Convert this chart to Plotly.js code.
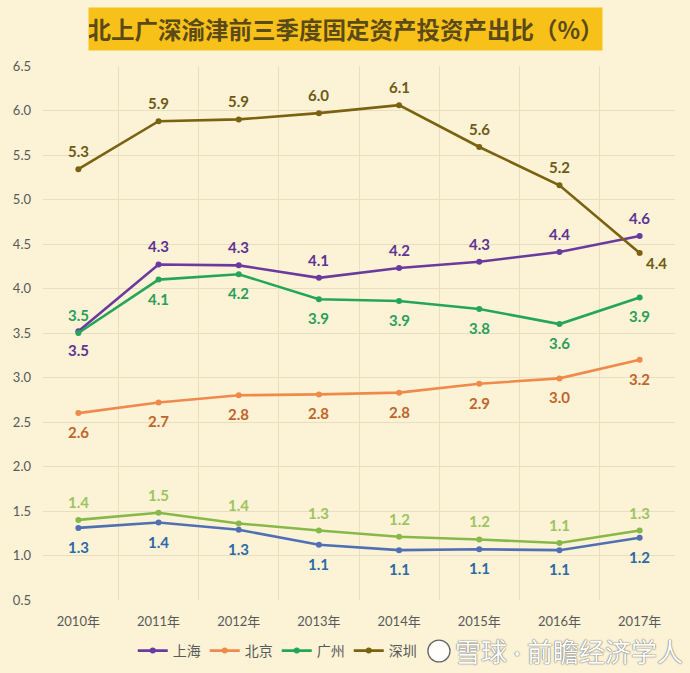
<!DOCTYPE html>
<html><head><meta charset="utf-8">
<script src="https://cdn.plot.ly/plotly-3.0.1.min.js"></script>
<style>html,body{margin:0;padding:0;background:#FCF3D6;}#chart{width:690px;height:673px;}</style>
</head><body><div id="chart"></div>
<script>
const years = ["2010年","2011年","2012年","2013年","2014年","2015年","2016年","2017年"];
const shanghai  = [3.52,4.27,4.26,4.12,4.23,4.30,4.41,4.59];
const beijing   = [2.60,2.72,2.80,2.81,2.83,2.93,2.99,3.20];
const guangzhou = [3.50,4.10,4.16,3.88,3.86,3.77,3.60,3.90];
const shenzhen  = [5.34,5.88,5.90,5.97,6.06,5.59,5.16,4.40];
const chongqing = [1.40,1.48,1.36,1.28,1.21,1.18,1.14,1.28];
const tianjin   = [1.31,1.37,1.29,1.12,1.06,1.07,1.06,1.20];

const series = [
  {name:"上海", y:shanghai,  color:"#6B3A9E", label:"#5E3393", pos:["b","t","t","t","t","t","t","t"], legend:true},
  {name:"北京", y:beijing,   color:"#F08A4B", label:"#C0652A", pos:["b","b","b","b","b","b","b","b"], legend:true},
  {name:"广州", y:guangzhou, color:"#25A55B", label:"#2A9E5A", pos:["t","b","b","b","b","b","b","b"], legend:true},
  {name:"深圳", y:shenzhen,  color:"#7A6210", label:"#6E5A14", pos:["t","t","t","t","t","t","t","br"], legend:true},
  {name:"重庆", y:chongqing, color:"#86B84A", label:"#9DC460", pos:["t","t","t","t","t","t","t","t"], legend:false},
  {name:"天津", y:tianjin,   color:"#4F70B3", label:"#2C6AA6", pos:["b","b","b","b","b","b","b","b"], legend:false}
];

const traces = series.map(s => ({
  type:"scatter", mode:"lines+markers", name:s.name, x:years, y:s.y,
  line:{color:s.color, width:2.6}, marker:{color:s.color, size:6},
  showlegend:s.legend, hoverinfo:"skip"
}));

const annotations = [];
series.forEach(s => {
  s.y.forEach((v,i) => {
    const p = s.pos[i];
    annotations.push({
      x:years[i], y:v, xref:"x", yref:"y", text:v.toFixed(1), showarrow:false,
      xshift: p==="br" ? 17 : 0,
      yshift: p==="t" ? 18 : (p==="br" ? -10 : -19),
      font:{family:"Lato, 'Noto Sans', sans-serif", size:15, color:s.label, weight:"bold"}
    });
  });
});

annotations.push({
  xref:"paper", yref:"paper", x:0.479, y:1.069, xanchor:"center", yanchor:"middle",
  text:"<b>北上广深渝津前三季度固定资产投资产出比（%）</b>", showarrow:false,
  bgcolor:"#F8C119", width:513, height:42, borderpad:0,
  font:{family:"'Noto Sans CJK SC', sans-serif", size:23.5, color:"#5A4A17"}
});
annotations.push({
  xref:"paper", yref:"paper", x:0.649, y:-0.0955, xanchor:"left", yanchor:"middle",
  text:"雪球<span style=\"font-family:Lato\"> · </span>前瞻经济学人", showarrow:false,
  font:{family:"'Noto Sans CJK SC', sans-serif", size:26, color:"#FFFFFF",
        shadow:"0 0 1.5px #555, 0 0 1px #777"}
});

const layout = {
  width:690, height:673,
  paper_bgcolor:"#FCF3D6", plot_bgcolor:"#FCF3D6",
  margin:{l:43, r:15, t:66, b:73, autoexpand:false},
  font:{family:"Lato, 'Noto Sans CJK SC', sans-serif", color:"#595959"},
  xaxis:{type:"category", tickson:"boundaries", showgrid:true, gridcolor:"#E9DEC0", gridwidth:1,
         ticks:"", showline:false, zeroline:false, tickfont:{size:13, color:"#595959"}, ticklabelstandoff:12},
  yaxis:{range:[0.5,6.5], dtick:0.5, tick0:0.5, tickformat:".1f", showgrid:true, gridcolor:"#E9DEC0",
         zeroline:false, showline:false, ticks:"", tickfont:{size:13, color:"#595959"}, ticklabelstandoff:11},
  showlegend:true,
  legend:{orientation:"h", x:0.142, xanchor:"left", y:-0.0955, yanchor:"middle",
          entrywidth:27, entrywidthmode:"pixels",
          font:{size:14, color:"#595959", family:"'Noto Sans CJK SC', sans-serif"}, itemwidth:30, bgcolor:"rgba(0,0,0,0)"},
  annotations:annotations,
  shapes:[{type:"circle", xref:"paper", yref:"paper", x0:0.609, x1:0.644, y0:-0.116, y1:-0.075,
           line:{color:"#666", width:1.3}, fillcolor:"rgba(255,255,255,0.9)"}]
};

Plotly.newPlot("chart", traces, layout, {displayModeBar:false, staticPlot:true});
</script></body></html>
